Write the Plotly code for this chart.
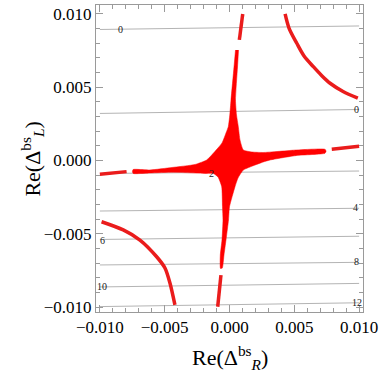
import plotly.graph_objects as go

# ── Palette ───────────────────────────────────────────────────────────────
_RED    = "#ff0000"
_RED_LN = "#ea1c1c"
_GRID   = "#b4b4b4"
_FRAME  = "#9a9a9a"
_TXT    = "#000000"
_SERIF  = "Liberation Serif, Times New Roman, serif"

# ── Contour lines (y at x = -0.01 and x = +0.01) ──────────────────────────
contour_x      = [-0.010, 0.010]
contour_y_left  = [0.00894, 0.00321, -0.00089, -0.00345, -0.00539, -0.00713, -0.00863, -0.00997]
contour_y_right = [0.00918, 0.00348, -0.00072, -0.00326, -0.00517, -0.00695, -0.00839, -0.00971]

# contour labels
label_text = ["0", "0", "2", "4", "6", "8", "10", "12"]
label_x    = [-0.0084, 0.00982, -0.00137, 0.00969, -0.00977, 0.00977, -0.00987, 0.00982]
label_y    = [0.00896, 0.00345, -0.00087, -0.00324, -0.00543, -0.00691, -0.00861, -0.00968]

# ── Allowed region: central cross outline ─────────────────────────────────
cross_x = [0.000695, 0.000618, 0.000463, 0.000540, 0.00068, 0.000811, 0.001066, 0.001737,
           0.00261, 0.00519, 0.00737, 0.00745, 0.00737, 0.00519, 0.00313, 0.00261,
           0.00158, 0.001066, 0.000656, 0.000425, 0.0000, -0.000077, -0.000270, -0.000425,
           -0.000556, -0.000695, -0.00071, -0.000580, -0.000502, -0.000541, -0.000602, -0.000888,
           -0.001251, -0.00176, -0.00434, -0.00614, -0.00743, -0.00749, -0.00743, -0.00614,
           -0.00444, -0.00266, -0.00176, -0.001251, -0.000579, -0.00027, -0.0000927, 0.0000232,
           0.000116, 0.000347, 0.000463]
cross_y = [0.00754, 0.00638, 0.00413, 0.00311, 0.00231, 0.0014, 0.000717, 0.000580,
           0.000546, 0.000717, 0.000765, 0.000628, 0.000491, 0.000341, 0.000034, -0.000102,
           -0.000444, -0.000648, -0.001195, -0.001788, -0.003154, -0.004061, -0.005427, -0.00645,
           -0.00734, -0.00737, -0.00645, -0.005427, -0.004061, -0.003154, -0.001788, -0.001126,
           -0.000887, -0.000887, -0.000805, -0.000853, -0.000887, -0.000751, -0.000614, -0.000648,
           -0.000478, -0.000273, 0.0000341, 0.000491, 0.001195, 0.001877, 0.002307, 0.003106,
           0.00413, 0.00638, 0.00754]

# thin arm pieces beyond the gaps
arm_top_x    = [0.00102, 0.00076]
arm_top_y    = [0.0100, 0.00823]
arm_bottom_x = [-0.00066, -0.00091]
arm_bottom_y = [-0.00782, -0.00998]
arm_left_x   = [-0.0100, -0.00794]
arm_left_y   = [-0.00094, -0.00076]
arm_right_x  = [0.00789, 0.0100]
arm_right_y  = [0.00076, 0.00097]

# hyperbola branches
branch_ur_x = [0.00429, 0.00459, 0.00519, 0.00575, 0.00647, 0.00714, 0.00776, 0.00876, 0.00990]
branch_ur_y = [0.01000, 0.00904, 0.00800, 0.00713, 0.00640, 0.00577, 0.00527, 0.00471, 0.00425]
branch_ll_x = [-0.00987, -0.00820, -0.00691, -0.00562, -0.00498, -0.00459, -0.00421]
branch_ll_y = [-0.00418, -0.00474, -0.00543, -0.00657, -0.00734, -0.00838, -0.00986]

tick_vals = [-0.010, -0.005, 0.0, 0.005, 0.010]

fig = go.Figure()

# ── Gray contour lines ────────────────────────────────────────────────────
for yl, yr in zip(contour_y_left, contour_y_right):
    fig.add_trace(go.Scatter(
        x=contour_x, y=[yl, yr], mode="lines",
        line=dict(color=_GRID, width=1), hoverinfo="skip",
    ))

# ── Red region ────────────────────────────────────────────────────────────
fig.add_trace(go.Scatter(
    x=cross_x, y=cross_y, mode="lines", fill="toself",
    fillcolor=_RED, line=dict(color=_RED, width=0.5, shape="spline", smoothing=0.5),
    hoverinfo="skip",
))
for xs, ys in [(arm_top_x, arm_top_y), (arm_bottom_x, arm_bottom_y),
               (arm_left_x, arm_left_y), (arm_right_x, arm_right_y)]:
    fig.add_trace(go.Scatter(
        x=xs, y=ys, mode="lines",
        line=dict(color=_RED_LN, width=3.5), hoverinfo="skip",
    ))
for xs, ys in [(branch_ur_x, branch_ur_y), (branch_ll_x, branch_ll_y)]:
    fig.add_trace(go.Scatter(
        x=xs, y=ys, mode="lines",
        line=dict(color=_RED_LN, width=3.5, shape="spline", smoothing=0.8),
        hoverinfo="skip",
    ))

# ── Contour labels ────────────────────────────────────────────────────────
for t, lx, ly in zip(label_text, label_x, label_y):
    fig.add_annotation(
        x=lx, y=ly, text=t, showarrow=False,
        font=dict(family=_SERIF, size=10, color="#222222"),
    )

# ── Axis titles ───────────────────────────────────────────────────────────
fig.add_annotation(
    xref="paper", yref="paper", x=0.5, y=-0.205,
    text="Re(Δ<sup>bs</sup><sub><i>R</i></sub>)", showarrow=False,
    font=dict(family=_SERIF, size=22, color=_TXT),
)
fig.add_annotation(
    xref="paper", yref="paper", x=-0.305, y=0.5, textangle=-90,
    text="Re(Δ<sup>bs</sup><sub><i>L</i></sub>)", showarrow=False,
    font=dict(family=_SERIF, size=22, color=_TXT),
)

_axis = dict(
    showgrid=False, zeroline=False,
    showline=True, linecolor=_FRAME, linewidth=1, mirror="allticks",
    ticks="inside", ticklen=7, tickcolor=_FRAME, tickwidth=1,
    tickvals=tick_vals, tickformat=".3f",
    tickfont=dict(family=_SERIF, size=17, color=_TXT),
    minor=dict(dtick=0.001, ticks="inside", ticklen=4, tickcolor=_FRAME),
)

fig.update_layout(
    width=382, height=382,
    paper_bgcolor="white", plot_bgcolor="white",
    margin=dict(l=96, r=19, t=5, b=70),
    showlegend=False,
    xaxis=dict(**_axis, range=[-0.0103, 0.0103]),
    yaxis=dict(**_axis, range=[-0.01034, 0.01061]),
)

fig.write_html(
    "out.html",
    config={"displayModeBar": False},
    post_script="document.body.style.margin='0';",
)
